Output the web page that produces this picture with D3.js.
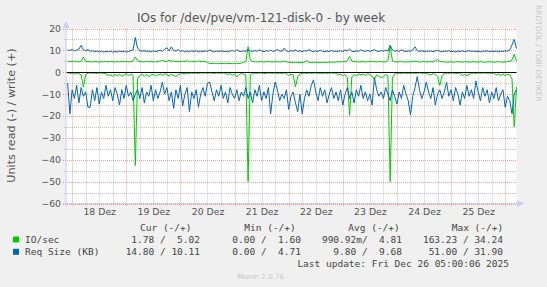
<!DOCTYPE html>
<html>
<head>
<meta charset="utf-8">
<script src="https://cdn.jsdelivr.net/npm/d3@7"></script>
<style>
body { margin: 0; background: #f0f0f0; }
svg { display: block; }
text { font-family: "DejaVu Sans", sans-serif; fill: #555; }
.mono { font-family: "DejaVu Sans Mono", monospace; white-space: pre; font-size: 9.5px; fill: #444; }
</style>
</head>
<body>
<svg width="547" height="287"></svg>
<script>
var title = "IOs for /dev/pve/vm-121-disk-0 - by week";
var dayLabels = ["18 Dez", "19 Dez", "20 Dez", "21 Dez", "22 Dez", "23 Dez", "24 Dez", "25 Dez"];
var yTicks = [20, 10, 0, -10, -20, -30, -40, -50, -60];

// hourly samples, Dec 17 22:00 .. Dec 26 05:00
var ioRead = [
  -0.3, -0.5, -0.4, -0.8, -0.5, -0.6, -1.2, -6.7, -1.0, -0.4, -0.3, -0.5, -0.4, -0.6, -0.3, -0.5, -0.4, -0.7, -1.5, -1.2,
  -1.8, -1.0, -1.6, -0.8, -1.9, -1.2, -0.7, -1.5, -0.9, -1.4, -42.6, -3.0, -1.5, -0.8, -1.8, -1.0, -2.0, -1.2, -0.9, -1.6,
  -1.2, -0.8, -1.4, -0.6, -1.0, -1.7, -0.9, -1.5, -2.0, -1.1, -0.7, -0.5, -0.8, -0.4, -0.6, -0.3, -0.5, -0.4, -0.6, -0.3,
  -0.4, -0.3, -0.5, -0.3, -0.4, -0.6, -0.3, -0.5, -0.4, -0.3, -0.5, -1.0, -0.6, -1.4, -0.8, -2.2, -1.0, -0.6, -0.8, -1.2,
  -50, -1.0, -0.6, -0.4, -0.5, -0.3, -0.4, -0.6, -0.5, -0.3, -0.4, -0.5, -0.3, -0.6, -0.4, -0.5, -0.3, -0.8, -1.4, -0.9,
  -1.2, -6.7, -2.0, -0.8, -0.5, -0.4, -0.6, -0.3, -0.5, -0.4, -0.3, -0.5, -0.4, -0.6, -0.3, -0.5, -0.4, -0.3, -0.5, -0.4,
  -1.2, -0.8, -1.5, -1.0, -2.5, -19.7, -2.2, -1.0, -1.6, -0.8, -1.2, -0.9, -1.4, -0.7, -1.0, -1.8, -3.3, -1.2, -1.6, -2.5,
  -2.0, -1.0, -1.6, -50, -2.5, -0.8, -0.5, -0.4, -0.6, -0.3, -0.5, -0.4, -0.6, -0.3, -0.5, -0.4, -0.3, -0.5, -0.4, -0.6,
  -0.8, -1.2, -0.6, -1.0, -2.0, -6.0, -1.5, -0.6, -0.4, -0.5, -0.3, -0.4, -0.6, -0.5, -0.3, -1.5, -1.0, -1.6, -0.8, -0.5,
  -0.4, -0.6, -0.3, -0.5, -0.4, -0.3, -0.5, -0.4, -0.6, -0.3, -1.2, -0.8, -1.4, -1.0, -1.5, -0.9, -1.2, -3.0, -25, -6.7
];
var ioWrite = [
  4.9, 5.0, 4.8, 5.1, 4.9, 4.7, 5.2, 6.9, 5.0, 4.8, 4.9, 4.7, 4.9, 4.8, 4.6, 4.9, 4.8, 5.0, 4.7, 4.9,
  4.8, 4.7, 4.9, 4.8, 5.0, 4.8, 4.9, 4.7, 4.9, 5.2, 7.0, 5.3, 4.9, 4.8, 4.7, 4.9, 4.8, 5.0, 4.7, 4.8,
  4.9, 5.1, 5.4, 4.9, 5.0, 5.5, 4.8, 5.2, 4.9, 5.0, 4.8, 5.1, 4.9, 5.3, 4.8, 5.0, 4.9, 4.8, 5.2, 4.9,
  4.8, 5.0, 4.4, 4.0, 4.0, 4.1, 4.0, 3.9, 4.0, 4.0, 4.1, 4.0, 4.0, 3.9, 4.0, 4.1, 4.0, 4.2, 4.6, 4.8,
  11.6, 5.6, 4.9, 4.8, 4.7, 4.8, 4.9, 4.7, 4.8, 4.9, 4.8, 4.7, 4.8, 4.9, 4.7, 4.8, 5.1, 4.8, 4.5, 4.5,
  4.5, 4.6, 4.5, 4.4, 4.5, 4.6, 5.3, 4.5, 4.4, 4.5, 4.6, 4.5, 4.4, 4.5, 4.6, 4.5, 4.6, 4.7, 4.6, 4.7,
  4.8, 4.7, 4.9, 4.8, 5.3, 7.3, 5.1, 4.8, 4.9, 4.7, 4.8, 4.9, 4.7, 4.8, 4.9, 5.0, 4.8, 4.7, 4.9, 4.8,
  4.7, 4.8, 5.4, 12.0, 5.2, 4.8, 4.7, 4.8, 4.9, 4.7, 4.8, 4.7, 4.9, 4.8, 5.1, 4.8, 4.7, 4.8, 4.9, 4.7,
  4.8, 4.9, 4.7, 5.2, 5.8, 5.0, 4.8, 4.7, 4.6, 4.7, 4.8, 4.6, 4.7, 4.8, 4.7, 4.6, 4.8, 4.7, 4.6, 4.7,
  4.8, 4.7, 4.6, 4.8, 4.7, 4.6, 4.7, 4.8, 4.7, 4.6, 4.7, 4.8, 4.7, 4.6, 4.7, 4.8, 5.0, 5.6, 8.2, 5.0
];
var sizeRead = [
  -5, -19, -8, -12, -6, -14, -7, -11, -9, -16, -16, -8, -13, -7, -14.5, -9, -12, -6, -11, -8,
  -13, -7, -10, -15, -8, -12, -6, -11, -9, -13, -10, -8, -12, -7, -14, -9, -11, -6, -13, -8,
  -12, -9, -4.5, -10, -7, -13, -9, -16.5, -8, -12, -6, -15.5, -10, -7, -18, -9, -12, -8, -16, -10,
  -7, -11, -5, -4.5, -9, -13, -8, -11, -6, -12, -9, -14, -7, -10, -12, -8, -13, -9, -11, -7,
  -12, -9, -14, -8, -11, -6, -13, -9, -12, -7, -19, -10, -4.5, -8, -13, -10, -12, -8, -17, -11,
  -9, -14, -18, -10, -19, -12, -8, -11, -6, -3.5, -9, -13, -7, -11, -8, -14, -10, -7, -12, -9,
  -13, -8, -15, -10, -7, -12, -9, -14, -8, -11, -6, -12, -9, -13, -10, -15, -2.5, -8, -11, -9,
  -12, -7, -10, -13, -8, -11, -14.5, -9, -12, -6, -10, -13, -19.5, -11, -7, -2, -8, -12, -9, -4.5,
  -9, -12, -7, -15, -10, -8, -12, -9, -4.5, -11, -8, -13, -7, -10, -15, -9, -12, -6, -11, -8,
  -12, -4, -9, -13, -7, -11, -8, -14, -9, -12, -7, -13, -10, -8, -16, -11, -13, -19, -10, -8
];
var sizeWrite = [
  10.2, 10.0, 10.4, 9.8, 10.1, 10.6, 12.3, 10.2, 9.9, 10.3, 9.6, 9.8, 9.4, 9.7, 9.3, 9.6, 9.2, 9.5, 9.3, 9.6,
  9.2, 9.5, 9.3, 9.7, 9.4, 9.6, 9.2, 9.5, 9.8, 10.2, 15.9, 11.0, 10.0, 9.6, 9.9, 9.4, 9.7, 9.3, 9.8, 9.5,
  9.7, 10.1, 9.5, 10.6, 11.2, 9.8, 11.6, 10.0, 9.6, 10.4, 9.5, 9.9, 9.3, 9.7, 9.4, 9.8, 9.5, 9.9, 9.3, 9.6,
  9.4, 9.8, 9.5, 10.2, 9.6, 9.3, 9.7, 9.5, 9.8, 9.4, 9.6, 9.3, 9.7, 9.9, 9.5, 10.3, 9.6, 9.4, 9.8, 9.5,
  10.4, 9.8, 9.5, 9.9, 9.6, 10.3, 9.7, 9.4, 9.9, 9.6, 10.1, 9.5, 9.8, 10.4, 9.7, 9.5, 11.0, 9.8, 9.4, 9.9,
  9.6, 10.2, 9.5, 9.8, 9.4, 9.9, 9.6, 10.3, 9.7, 9.4, 9.8, 9.5, 10.1, 9.6, 9.3, 9.7, 9.5, 9.9, 9.4, 9.7,
  9.5, 9.9, 9.4, 10.2, 9.7, 10.6, 9.6, 9.4, 9.8, 9.5, 10.3, 9.7, 9.5, 10.0, 9.6, 9.8, 10.4, 9.7, 9.5, 9.9,
  9.6, 10.1, 9.7, 12.3, 10.2, 9.6, 9.9, 9.5, 10.3, 9.7, 9.4, 9.8, 9.6, 10.2, 11.6, 9.9, 9.5, 9.8, 9.4, 9.7,
  9.5, 9.8, 9.4, 9.7, 10.0, 9.6, 9.3, 9.7, 9.5, 9.9, 9.4, 9.6, 9.3, 9.7, 9.5, 9.8, 9.4, 9.6, 9.9, 9.5,
  9.7, 9.4, 9.6, 9.3, 9.7, 9.5, 9.8, 9.4, 9.6, 9.5, 9.7, 9.4, 9.6, 9.5, 9.8, 9.6, 10.2, 12.5, 15.0, 10.8
];

var legendHead = ["Cur (-/+)", "Min (-/+)", "Avg (-/+)", "Max (-/+)"];
var ioStats = ["1.78 /  5.02", "0.00 /  1.60", "990.92m/  4.81", "163.23 / 34.24"];
var sizeStats = ["14.80 / 10.11", "0.00 /  4.71", "9.80 /  9.68", "51.00 / 31.90"];
var lastUpdate = "Last update: Fri Dec 26 05:00:06 2025";

var green = "#00cc00", blue = "#0066b3", axisCol = "#c9cff5";
var start = new Date(2025, 11, 17, 21, 30), end = new Date(2025, 11, 26, 5, 0);
var times = ioRead.map(function(d, i) { return new Date(+start + (i + 0.5) * 3600000); });

var svg = d3.select("svg");
var x = d3.scaleTime().domain([start, end]).range([66.5, 516.5]);
var y = d3.scaleLinear().domain([-60, 20]).range([203.5, 28.5]);

// canvas
svg.append("rect").attr("x", 66.5).attr("y", 28.5).attr("width", 450).attr("height", 175).attr("fill", "#fff");

// grid
var minorY = d3.range(-55, 20, 10);
svg.selectAll(".gy").data(minorY).enter().append("line")
  .attr("x1", 64).attr("x2", 516.5)
  .attr("y1", function(d) { return Math.round(y(d)) + 0.5; }).attr("y2", function(d) { return Math.round(y(d)) + 0.5; })
  .attr("stroke", "rgba(128,128,128,0.45)").attr("stroke-dasharray", "1,1");
svg.selectAll(".gY").data(yTicks).enter().append("line")
  .attr("x1", 63).attr("x2", 516.5)
  .attr("y1", function(d) { return Math.round(y(d)) + 0.5; }).attr("y2", function(d) { return Math.round(y(d)) + 0.5; })
  .attr("stroke", "rgba(255,0,0,0.4)").attr("stroke-dasharray", "1,1");
var hours6 = d3.timeHour.every(6).range(start, end).filter(function(d) { return d.getHours() != 0; });
svg.selectAll(".gx").data(hours6).enter().append("line")
  .attr("x1", function(d) { return Math.round(x(d)) + 0.5; }).attr("x2", function(d) { return Math.round(x(d)) + 0.5; })
  .attr("y1", 28.5).attr("y2", 205)
  .attr("stroke", "rgba(128,128,128,0.45)").attr("stroke-dasharray", "1,1");
var days = d3.timeDay.range(start, end);
svg.selectAll(".gX").data(days).enter().append("line")
  .attr("x1", function(d) { return Math.round(x(d)) + 0.5; }).attr("x2", function(d) { return Math.round(x(d)) + 0.5; })
  .attr("y1", 28.5).attr("y2", 206)
  .attr("stroke", "rgba(255,0,0,0.4)").attr("stroke-dasharray", "1,1");

// series
var line = d3.line().x(function(d, i) { return x(times[i]); }).y(function(d) { return y(d); });
[[ioRead, green], [ioWrite, green], [sizeRead, blue], [sizeWrite, blue]].forEach(function(s) {
  svg.append("path").attr("d", line(s[0])).attr("fill", "none").attr("stroke", s[1]).attr("stroke-width", 1);
});

// zero line
svg.append("line").attr("x1", 66.5).attr("x2", 516.5)
  .attr("y1", Math.round(y(0)) + 0.5).attr("y2", Math.round(y(0)) + 0.5)
  .attr("stroke", "#000").attr("stroke-width", 1);

// axes lines with arrows
svg.append("line").attr("x1", 66).attr("x2", 66).attr("y1", 206).attr("y2", 25).attr("stroke", axisCol);
svg.append("path").attr("d", "M62.5,28 L69.5,28 L66,21 Z").attr("fill", axisCol);
svg.append("line").attr("x1", 63).attr("x2", 520).attr("y1", 203.5).attr("y2", 203.5).attr("stroke", axisCol);
svg.append("path").attr("d", "M517,200 L517,207 L524,203.5 Z").attr("fill", axisCol);

// tick labels via d3 axes
var gy = svg.append("g").attr("transform", "translate(61,0)")
  .call(d3.axisLeft(y).tickValues(yTicks).tickSize(0).tickPadding(0).tickFormat(d3.format("d")));
gy.select(".domain").remove();
gy.selectAll("text").attr("font-family", "DejaVu Sans").attr("font-size", 9.3).attr("fill", "#555");

var noons = days.map(function(d) { return d3.timeHour.offset(d, 12); });
var gx = svg.append("g").attr("transform", "translate(0,205)")
  .call(d3.axisBottom(x).tickValues(noons).tickSize(0).tickPadding(3)
    .tickFormat(function(d, i) { return dayLabels[i]; }));
gx.select(".domain").remove();
gx.selectAll("text").attr("font-family", "DejaVu Sans").attr("font-size", 9.3).attr("fill", "#555");

// titles
svg.append("text").attr("x", 261).attr("y", 22).attr("text-anchor", "middle")
  .attr("font-size", 12).text(title);
svg.append("text").attr("transform", "translate(15,115.5) rotate(-90)").attr("text-anchor", "middle")
  .attr("font-size", 11.2).text("Units read (-) / write (+)");
svg.append("text").attr("transform", "translate(535.5,5) rotate(90)")
  .attr("font-size", 7.5).style("fill", "#c8c8c8").text("RRDTOOL / TOBI OETIKER");

// legend
var headX = [140, 244.3, 348.3, 451.7], valX = [200, 301, 402, 503];
svg.selectAll(".lh").data(legendHead).enter().append("text").attr("class", "mono")
  .attr("xml:space", "preserve")
  .attr("x", function(d, i) { return headX[i]; }).attr("y", 230.7).text(function(d) { return d; });
[[ioStats, "IO/sec", green, 243], [sizeStats, "Req Size (KB)", blue, 255.3]].forEach(function(r) {
  svg.append("rect").attr("x", 13).attr("y", r[3] - 6.5).attr("width", 6).attr("height", 6).attr("fill", r[2]);
  svg.append("text").attr("class", "mono").attr("x", 25).attr("y", r[3]).text(r[1]);
  svg.selectAll(null).data(r[0]).enter().append("text").attr("class", "mono")
    .attr("xml:space", "preserve").attr("text-anchor", "end")
    .attr("x", function(d, i) { return valX[i]; }).attr("y", r[3]).text(function(d) { return d; });
});
svg.append("text").attr("class", "mono").attr("x", 509).attr("y", 267).attr("text-anchor", "end").text(lastUpdate);
svg.append("text").attr("x", 260.7).attr("y", 278.5).attr("text-anchor", "middle")
  .attr("font-size", 7.2).style("fill", "#c8c8c8").text("Munin 2.0.76");
</script>
</body>
</html>
